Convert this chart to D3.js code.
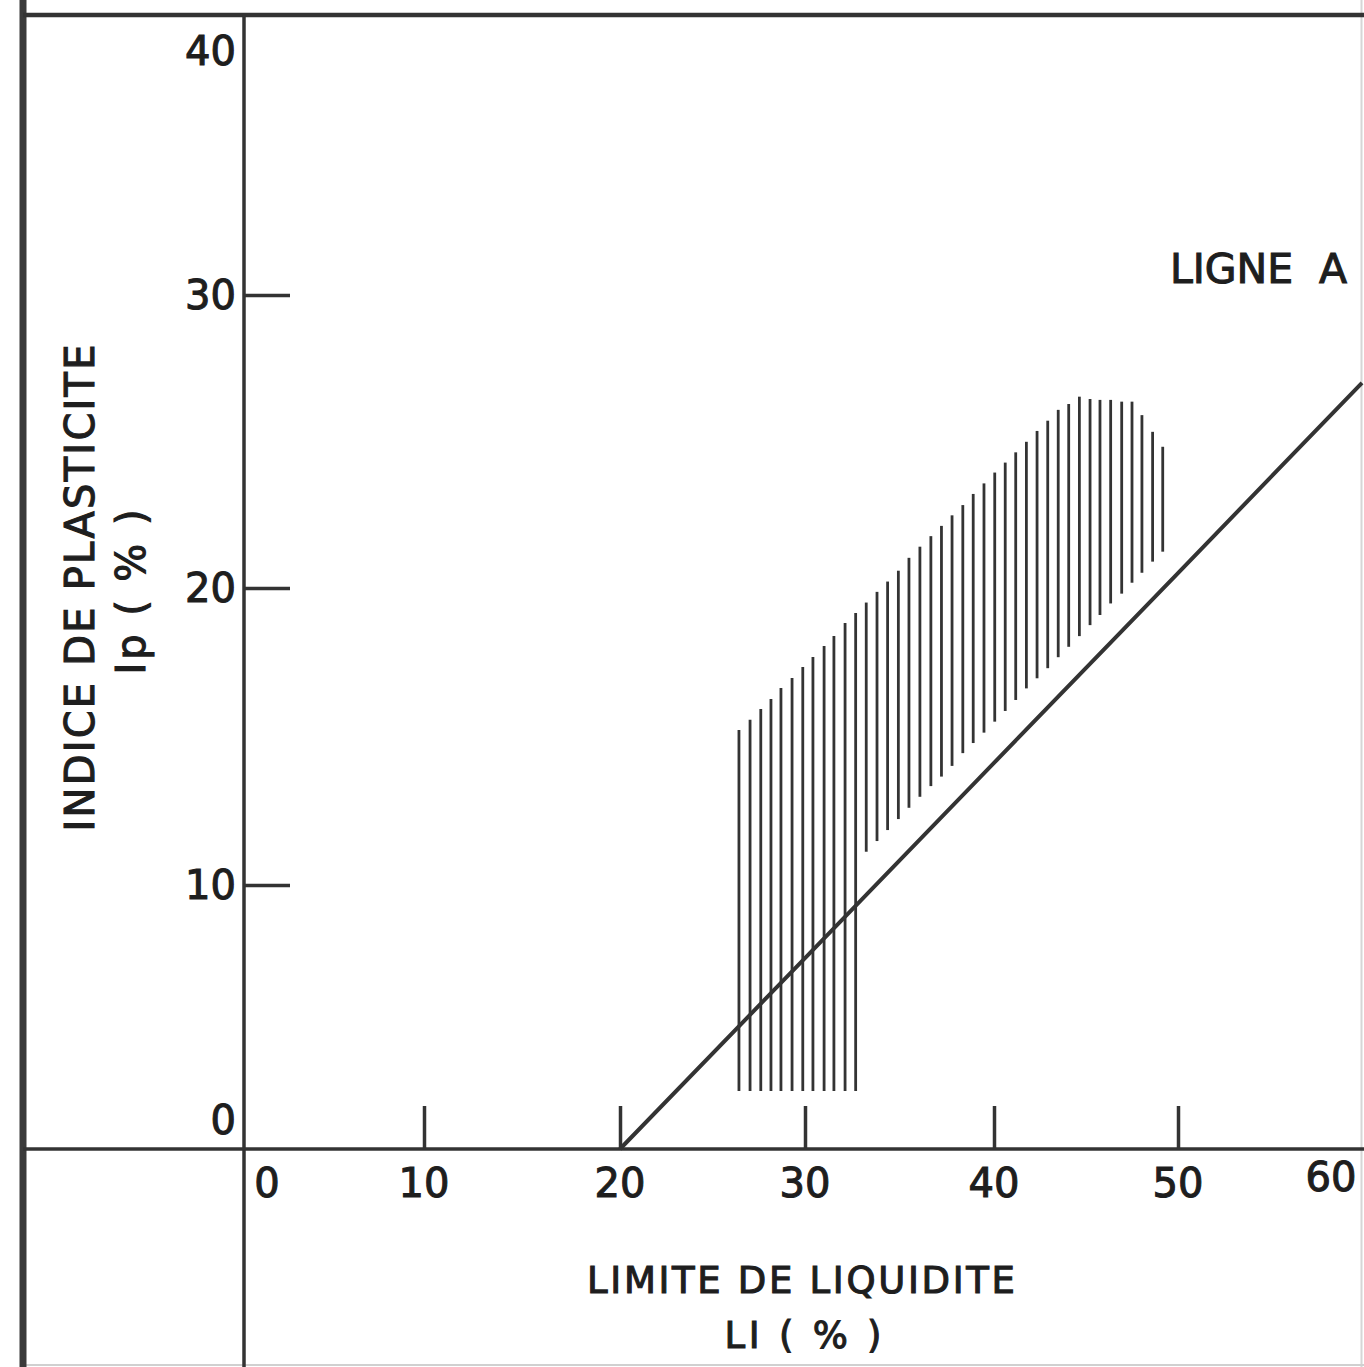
<!DOCTYPE html>
<html>
<head>
<meta charset="utf-8">
<script src="https://cdn.jsdelivr.net/npm/d3@7"></script>
<style>
  html, body { margin: 0; padding: 0; background: #fff; }
  svg { display: block; }
  text { font-family: "DejaVu Sans", "Liberation Sans", sans-serif; fill: #1e1e1e; stroke: #1e1e1e; stroke-width: 1.1px; }
</style>
</head>
<body>
<svg id="chart" width="1364" height="1367"></svg>
<script>
// Plasticity chart: Ip against Ll, with the A-line and a hatched zone.

// Axis graduations and their labels
const xTickValues = [10, 20, 30, 40, 50];
const xLabelValues = [0, 10, 20, 30, 40, 50, 60];
const yTickValues = [10, 20, 30];
const yLabelValues = [0, 10, 20, 30, 40];

// A-line (Ip versus Ll)
const aLineLL = [20, 30, 40, 50, 60];
const aLineIp = [0, 7.23, 14.11, 20.51, 27.0];

// Hatched zone: one vertical stroke per Ll value, from hatchLow to hatchHigh (Ip)
const hatchLL = [
  26.43, 27.03, 27.61, 28.16, 28.70, 29.30, 29.88, 30.42, 31.01, 31.53, 32.12, 32.68,
  33.24, 33.81, 34.37, 34.94, 35.50, 36.08, 36.66, 37.22, 37.78, 38.35,
  38.90, 39.47, 40.04, 40.61, 41.18, 41.76, 42.34, 42.92, 43.49, 44.06,
  44.64, 45.22, 45.76, 46.34, 46.94, 47.50, 48.04, 48.62, 49.17
];
const hatchLow = [
  2.2, 2.2, 2.2, 2.2, 2.2, 2.2, 2.2, 2.2, 2.2, 2.2, 2.2, 2.2,
  11.12, 11.48, 11.85, 12.22, 12.60, 12.97, 13.33, 13.65, 14.01, 14.44,
  14.78, 15.13, 15.50, 15.86, 16.23, 16.62, 16.96, 17.30, 17.67, 18.02,
  18.38, 18.75, 19.09, 19.48, 19.81, 20.18, 20.52, 20.90, 21.24
];
const hatchHigh = [
  15.22, 15.56, 15.93, 16.26, 16.63, 16.97, 17.34, 17.68, 18.05, 18.38, 18.82, 19.16,
  19.51, 19.87, 20.22, 20.59, 21.03, 21.41, 21.77, 22.12, 22.48, 22.83,
  23.21, 23.57, 23.94, 24.28, 24.63, 24.99, 25.36, 25.71, 26.08, 26.28,
  26.53, 26.45, 26.42, 26.42, 26.36, 26.36, 25.90, 25.33, 24.82
];

const W = 1364, H = 1367;
const svg = d3.select("#chart");
const ink = "#333";

// The grid stations on this plot are not evenly spaced, so both scales are piecewise.
const x = d3.scaleLinear()
  .domain([0, 10, 20, 30, 40, 50])
  .range([244, 424, 620, 805, 994, 1178]);
const y = d3.scaleLinear()
  .domain([0, 10, 20, 30])
  .range([1149, 885, 588, 295]);

const frameLeft = 23, frameTop = 15;
const x0 = x(0), y0 = y(0);

// Frame and axes
const frame = svg.append("g").attr("stroke", ink).attr("fill", "none");
frame.append("line").attr("x1", W - 2.5).attr("x2", W - 2.5).attr("y1", 0).attr("y2", H)
  .attr("stroke", "#d6d6d6").attr("stroke-width", 2);
frame.append("line").attr("x1", frameLeft).attr("x2", W).attr("y1", H - 2).attr("y2", H - 2)
  .attr("stroke", "#d0d0d0").attr("stroke-width", 2);
frame.append("line").attr("x1", frameLeft).attr("x2", frameLeft).attr("y1", 0).attr("y2", H)
  .attr("stroke-width", 7).attr("stroke", "#3a3a3a");
frame.append("line").attr("x1", frameLeft).attr("x2", W).attr("y1", frameTop).attr("y2", frameTop)
  .attr("stroke-width", 4.5);
frame.append("line").attr("x1", x0).attr("x2", x0).attr("y1", frameTop).attr("y2", H)
  .attr("stroke-width", 3.5);
frame.append("line").attr("x1", frameLeft).attr("x2", W).attr("y1", y0).attr("y2", y0)
  .attr("stroke-width", 3.5);

// Inward tick marks
const yAxis = svg.append("g").attr("transform", `translate(${x0},0)`)
  .call(d3.axisRight(y).tickValues(yTickValues).tickSize(46).tickFormat(""));
const xAxis = svg.append("g").attr("transform", `translate(0,${y0})`)
  .call(d3.axisTop(x).tickValues(xTickValues).tickSize(43).tickFormat(""));
[xAxis, yAxis].forEach(g => {
  g.select(".domain").remove();
  g.selectAll(".tick line").attr("stroke", ink).attr("stroke-width", 3.5);
});

// Tick labels, kept inside their frame cells
const yLabelMin = frameTop + 36, yLabelMax = y0 - 29;
svg.append("g").selectAll("text").data(yLabelValues).join("text")
  .attr("x", x0 - 8)
  .attr("y", d => Math.min(yLabelMax, Math.max(yLabelMin, y(d))))
  .attr("dy", "0.36em")
  .attr("text-anchor", "end")
  .attr("font-size", 40)
  .text(d => d);

const xLabelMin = x0 + 23, xLabelMax = x(60) - 31;
svg.append("g").selectAll("text").data(xLabelValues).join("text")
  .attr("x", d => Math.min(xLabelMax, Math.max(xLabelMin, x(d))))
  .attr("y", d => d === 60 ? 1191 : 1197)
  .attr("text-anchor", "middle")
  .attr("font-size", 40)
  .text(d => d);

// Hatched zone
svg.append("g").attr("stroke", ink).attr("stroke-width", 2.8)
  .selectAll("line").data(hatchLL).join("line")
  .attr("x1", d => x(d)).attr("x2", d => x(d))
  .attr("y1", (d, i) => y(hatchLow[i]))
  .attr("y2", (d, i) => y(hatchHigh[i]));

// A-line
svg.append("path")
  .datum(aLineLL.map((d, i) => [d, aLineIp[i]]))
  .attr("fill", "none").attr("stroke", ink).attr("stroke-width", 4)
  .attr("d", d3.line().x(d => x(d[0])).y(d => y(d[1])));

svg.append("text")
  .attr("x", 1170).attr("y", 283)
  .attr("font-size", 41)
  .attr("textLength", 177).attr("lengthAdjust", "spacing")
  .style("white-space", "pre")
  .text("LIGNE  A");

// Axis titles
svg.append("text")
  .attr("x", 801).attr("y", 1293)
  .attr("text-anchor", "middle").attr("font-size", 37)
  .attr("textLength", 428).attr("lengthAdjust", "spacing")
  .text("LIMITE DE LIQUIDITE");
svg.append("text")
  .attr("x", 803).attr("y", 1348)
  .attr("text-anchor", "middle").attr("font-size", 37)
  .attr("textLength", 157).attr("lengthAdjust", "spacing")
  .text("LI ( % )");

svg.append("text")
  .attr("transform", "translate(94,588) rotate(-90)")
  .attr("text-anchor", "middle").attr("font-size", 40)
  .attr("textLength", 487).attr("lengthAdjust", "spacing")
  .text("INDICE DE PLASTICITE");
svg.append("text")
  .attr("transform", "translate(145,592) rotate(-90)")
  .attr("text-anchor", "middle").attr("font-size", 40)
  .attr("textLength", 165).attr("lengthAdjust", "spacing")
  .text("Ip ( % )");
</script>
</body>
</html>
